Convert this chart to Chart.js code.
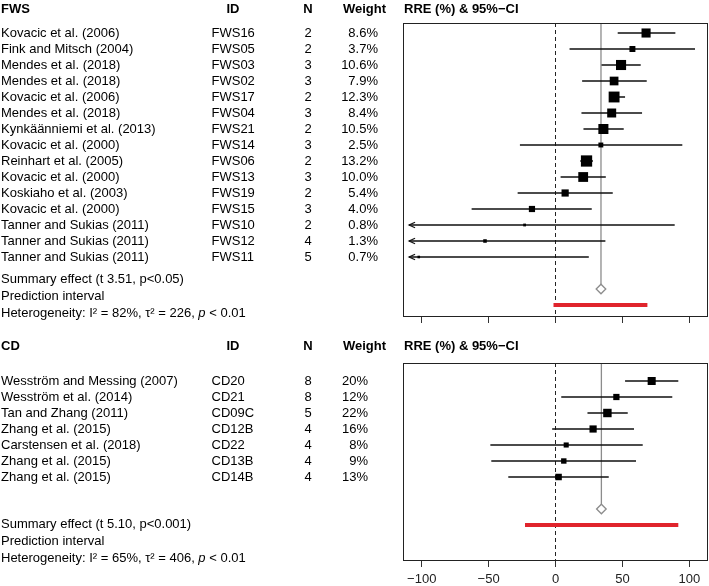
<!DOCTYPE html>
<html>
<head>
<meta charset="utf-8">
<script src="https://cdn.jsdelivr.net/npm/chart.js@4.4.0/dist/chart.umd.min.js"></script>
<style>
  html, body { margin: 0; padding: 0; background: #fff; }
  #wrap { position: relative; width: 709px; height: 586px; background: #fff; }
  canvas { position: absolute; left: 0; }
</style>
</head>
<body>
<div id="wrap">
  <canvas id="fwsChart" width="709" height="330" style="top:0px"></canvas>
  <canvas id="cdChart" width="709" height="256" style="top:330px"></canvas>
</div>
<script>
// FWS studies
const fwsStudy = ['Kovacic et al. (2006)', 'Fink and Mitsch (2004)', 'Mendes et al. (2018)', 'Mendes et al. (2018)',
  'Kovacic et al. (2006)', 'Mendes et al. (2018)', 'Kynkäänniemi et al. (2013)', 'Kovacic et al. (2000)',
  'Reinhart et al. (2005)', 'Kovacic et al. (2000)', 'Koskiaho et al. (2003)', 'Kovacic et al. (2000)',
  'Tanner and Sukias (2011)', 'Tanner and Sukias (2011)', 'Tanner and Sukias (2011)'];
const fwsId = ['FWS16', 'FWS05', 'FWS03', 'FWS02', 'FWS17', 'FWS04', 'FWS21', 'FWS14', 'FWS06', 'FWS13', 'FWS19', 'FWS15', 'FWS10', 'FWS12', 'FWS11'];
const fwsN = [2, 2, 3, 3, 2, 3, 2, 3, 2, 3, 2, 3, 2, 4, 5];
const fwsWeight = [8.6, 3.7, 10.6, 7.9, 12.3, 8.4, 10.5, 2.5, 13.2, 10.0, 5.4, 4.0, 0.8, 1.3, 0.7];
const fwsRre = [67.7, 57.5, 49.0, 43.8, 43.8, 42.0, 35.8, 33.9, 23.2, 20.7, 7.2, -17.6, -23.1, -52.7, -102.2];
const fwsLower = [46.5, 10.5, 34.4, 19.9, 42.8, 19.4, 20.9, -26.6, 18.5, 3.8, -28.3, -62.7, -135.3, -142.7, -229.3];
const fwsUpper = [89.6, 104.3, 63.7, 68.2, 52.0, 64.7, 51.0, 94.8, 28.0, 37.6, 42.8, 27.1, 89.1, 37.3, 24.9];
const fwsSummary = 34.0;
const fwsPred = [-1.5, 68.7];

// CD studies
const cdStudy = ['Wesström and Messing (2007)', 'Wesström et al. (2014)', 'Tan and Zhang (2011)', 'Zhang et al. (2015)',
  'Carstensen et al. (2018)', 'Zhang et al. (2015)', 'Zhang et al. (2015)'];
const cdId = ['CD20', 'CD21', 'CD09C', 'CD12B', 'CD22', 'CD13B', 'CD14B'];
const cdN = [8, 8, 5, 4, 4, 4, 4];
const cdWeight = [20, 12, 22, 16, 8, 9, 13];
const cdRre = [71.9, 45.5, 38.8, 28.1, 8.0, 6.2, 2.3];
const cdLower = [52.0, 4.3, 23.9, -2.5, -48.7, -48.0, -35.3];
const cdUpper = [91.8, 87.3, 54.0, 58.7, 65.2, 60.2, 39.8];
const cdSummary = 34.3;
const cdPred = [-22.8, 91.8];

const xTicks = [-100, -50, 0, 50, 100];

const FONT = '"Liberation Sans", Arial, Helvetica, sans-serif';

// open arrow head "<" for intervals that run off the plot
function arrowHead() {
    const c = document.createElement('canvas');
    c.width = 14; c.height = 8;
    const g = c.getContext('2d');
    g.strokeStyle = '#111';
    g.lineWidth = 1.2;
    g.beginPath();
    g.moveTo(13, 1.2); g.lineTo(7, 4); g.lineTo(13, 6.8);
    g.stroke();
    return c;
}

// draws the box and the text columns left of the plot
const forestText = {
    id: 'forestText',
    afterDraw(chart, args, o) {
        const ctx = chart.ctx;
        const ys = chart.scales.y;
        const a = chart.chartArea;
        ctx.save();
        ctx.strokeStyle = '#222';
        ctx.lineWidth = 1;
        ctx.strokeRect(a.left + 0.5, a.top + 0.5, a.width - 1, a.height - 1);

        ctx.fillStyle = '#000';
        ctx.textBaseline = 'middle';

        // headers
        const hy = ys.getPixelForValue(o.headerRow);
        ctx.font = 'bold 13px ' + FONT;
        ctx.textAlign = 'left';
        ctx.fillText(o.group, 1, hy);
        ctx.fillText('RRE (%) & 95%\u2212CI', 404, hy);
        ctx.textAlign = 'center';
        ctx.fillText('ID', 233, hy);
        ctx.fillText('N', 308, hy);
        ctx.fillText('Weight', 364.5, hy);

        // study rows
        ctx.font = '13px ' + FONT;
        o.study.forEach((s, i) => {
            const y = ys.getPixelForValue(i + 1);
            ctx.textAlign = 'left';
            ctx.fillText(s, 1, y);
            ctx.fillText(o.id[i], 211.5, y);
            ctx.textAlign = 'center';
            ctx.fillText(String(o.n[i]), 308, y);
            ctx.textAlign = 'right';
            ctx.fillText(o.weightText(o.weight[i]), o.weightRight, y);
        });

        // summary lines
        ctx.textAlign = 'left';
        ctx.fillText(o.summaryText, 1, ys.getPixelForValue(o.textRows[0]));
        ctx.fillText('Prediction interval', 1, ys.getPixelForValue(o.textRows[1]));
        let x = 1;
        const hy2 = ys.getPixelForValue(o.textRows[2]);
        o.hetero.forEach(([txt, italic]) => {
            ctx.font = (italic ? 'italic ' : '') + '13px ' + FONT;
            ctx.fillText(txt, x, hy2);
            x += ctx.measureText(txt).width;
        });
        ctx.restore();
    }
};

function makeForest(canvasId, cfg) {
    const rows = cfg.rre.map((_, i) => i + 1);
    const xClip = -109.5;

    const ciData = [];
    rows.forEach((r, i) => {
        ciData.push({ x: Math.max(cfg.lower[i], xClip), y: r });
        ciData.push({ x: cfg.upper[i], y: r });
        ciData.push({ x: null, y: null });
    });
    const arrows = rows.filter((r, i) => cfg.lower[i] < xClip).map(r => ({ x: xClip, y: r }));

    new Chart(document.getElementById(canvasId), {
        type: 'scatter',
        data: {
            datasets: [
                {
                    // summary diamond
                    data: [{ x: cfg.summary, y: cfg.summaryRow }],
                    pointStyle: 'rectRot',
                    pointRadius: 4.8,
                    backgroundColor: '#fff',
                    borderColor: '#8c8c8c',
                    borderWidth: 1.3,
                    order: 0
                },
                {
                    // study estimates
                    data: rows.map((r, i) => ({ x: cfg.rre[i], y: r })),
                    pointStyle: 'rect',
                    pointRadius: cfg.weight.map(w => cfg.boxScale * Math.sqrt(w) / Math.SQRT2),
                    backgroundColor: '#000',
                    borderWidth: 0,
                    order: 1
                },
                {
                    data: arrows,
                    pointStyle: arrowHead(),
                    order: 2
                },
                {
                    // prediction interval
                    type: 'line',
                    data: [{ x: cfg.pred[0], y: cfg.predRow }, { x: cfg.pred[1], y: cfg.predRow }],
                    borderColor: '#e0242c',
                    borderWidth: 4,
                    borderCapStyle: 'butt',
                    pointRadius: 0,
                    order: 2
                },
                {
                    // confidence intervals
                    type: 'line',
                    data: ciData,
                    borderColor: '#111',
                    borderWidth: 1.3,
                    pointRadius: 0,
                    spanGaps: false,
                    order: 3
                },
                {
                    // summary vertical
                    type: 'line',
                    data: [{ x: cfg.summary, y: cfg.yMin }, { x: cfg.summary, y: cfg.summaryRow }],
                    borderColor: '#8c8c8c',
                    borderWidth: 1.3,
                    pointRadius: 0,
                    order: 4
                },
                {
                    // no effect line
                    type: 'line',
                    data: [{ x: 0, y: cfg.yMin }, { x: 0, y: cfg.yMax }],
                    borderColor: '#222',
                    borderWidth: 1,
                    borderDash: [4, 3],
                    pointRadius: 0,
                    order: 5
                }
            ]
        },
        options: {
            responsive: false,
            animation: false,
            events: [],
            devicePixelRatio: 1,
            layout: { autoPadding: false, padding: { left: 403, right: 1, top: cfg.padTop, bottom: 0 } },
            plugins: {
                legend: { display: false },
                tooltip: { enabled: false },
                forestText: cfg.text
            },
            scales: {
                x: {
                    type: 'linear',
                    min: -114,
                    max: 114,
                    afterBuildTicks: s => { s.ticks = xTicks.map(v => ({ value: v })); },
                    afterFit: s => { s.height = cfg.axisHeight; },
                    border: { display: false },
                    grid: { drawOnChartArea: false, drawTicks: true, tickLength: 6, color: '#333', lineWidth: 1 },
                    ticks: {
                        display: cfg.showTicks,
                        color: '#222',
                        padding: 5,
                        font: { family: FONT, size: 13 },
                        callback: v => v < 0 ? '\u2212' + Math.abs(v) : String(v)
                    }
                },
                y: {
                    type: 'linear',
                    display: false,
                    reverse: true,
                    min: cfg.yMin,
                    max: cfg.yMax
                }
            }
        },
        plugins: [forestText]
    });
}

makeForest('fwsChart', {
    rre: fwsRre, lower: fwsLower, upper: fwsUpper, weight: fwsWeight,
    summary: fwsSummary, pred: fwsPred,
    summaryRow: 17, predRow: 18, yMin: 0.375, yMax: 18.75,
    boxScale: 3.1, padTop: 23, axisHeight: 13, showTicks: false,
    text: {
        group: 'FWS', headerRow: -0.5,
        study: fwsStudy, id: fwsId, n: fwsN, weight: fwsWeight,
        weightText: w => w.toFixed(1) + '%', weightRight: 378,
        summaryText: 'Summary effect (t 3.51, p<0.05)',
        textRows: [16.375, 17.44, 18.5],
        hetero: [['Heterogeneity: I\u00b2 = 82%, \u03c4\u00b2 = 226, ', false], ['p', true], [' < 0.01', false]]
    }
});

makeForest('cdChart', {
    rre: cdRre, lower: cdLower, upper: cdUpper, weight: cdWeight,
    summary: cdSummary, pred: cdPred,
    summaryRow: 9, predRow: 10, yMin: -0.125, yMax: 12.25,
    boxScale: 1.8, padTop: 33, axisHeight: 25, showTicks: true,
    text: {
        group: 'CD', headerRow: -1.15,
        study: cdStudy, id: cdId, n: cdN, weight: cdWeight,
        weightText: w => w + '%', weightRight: 368,
        summaryText: 'Summary effect (t 5.10, p<0.001)',
        textRows: [9.94, 11, 12.06],
        hetero: [['Heterogeneity: I\u00b2 = 65%, \u03c4\u00b2 = 406, ', false], ['p', true], [' < 0.01', false]]
    }
});
</script>
</body>
</html>
